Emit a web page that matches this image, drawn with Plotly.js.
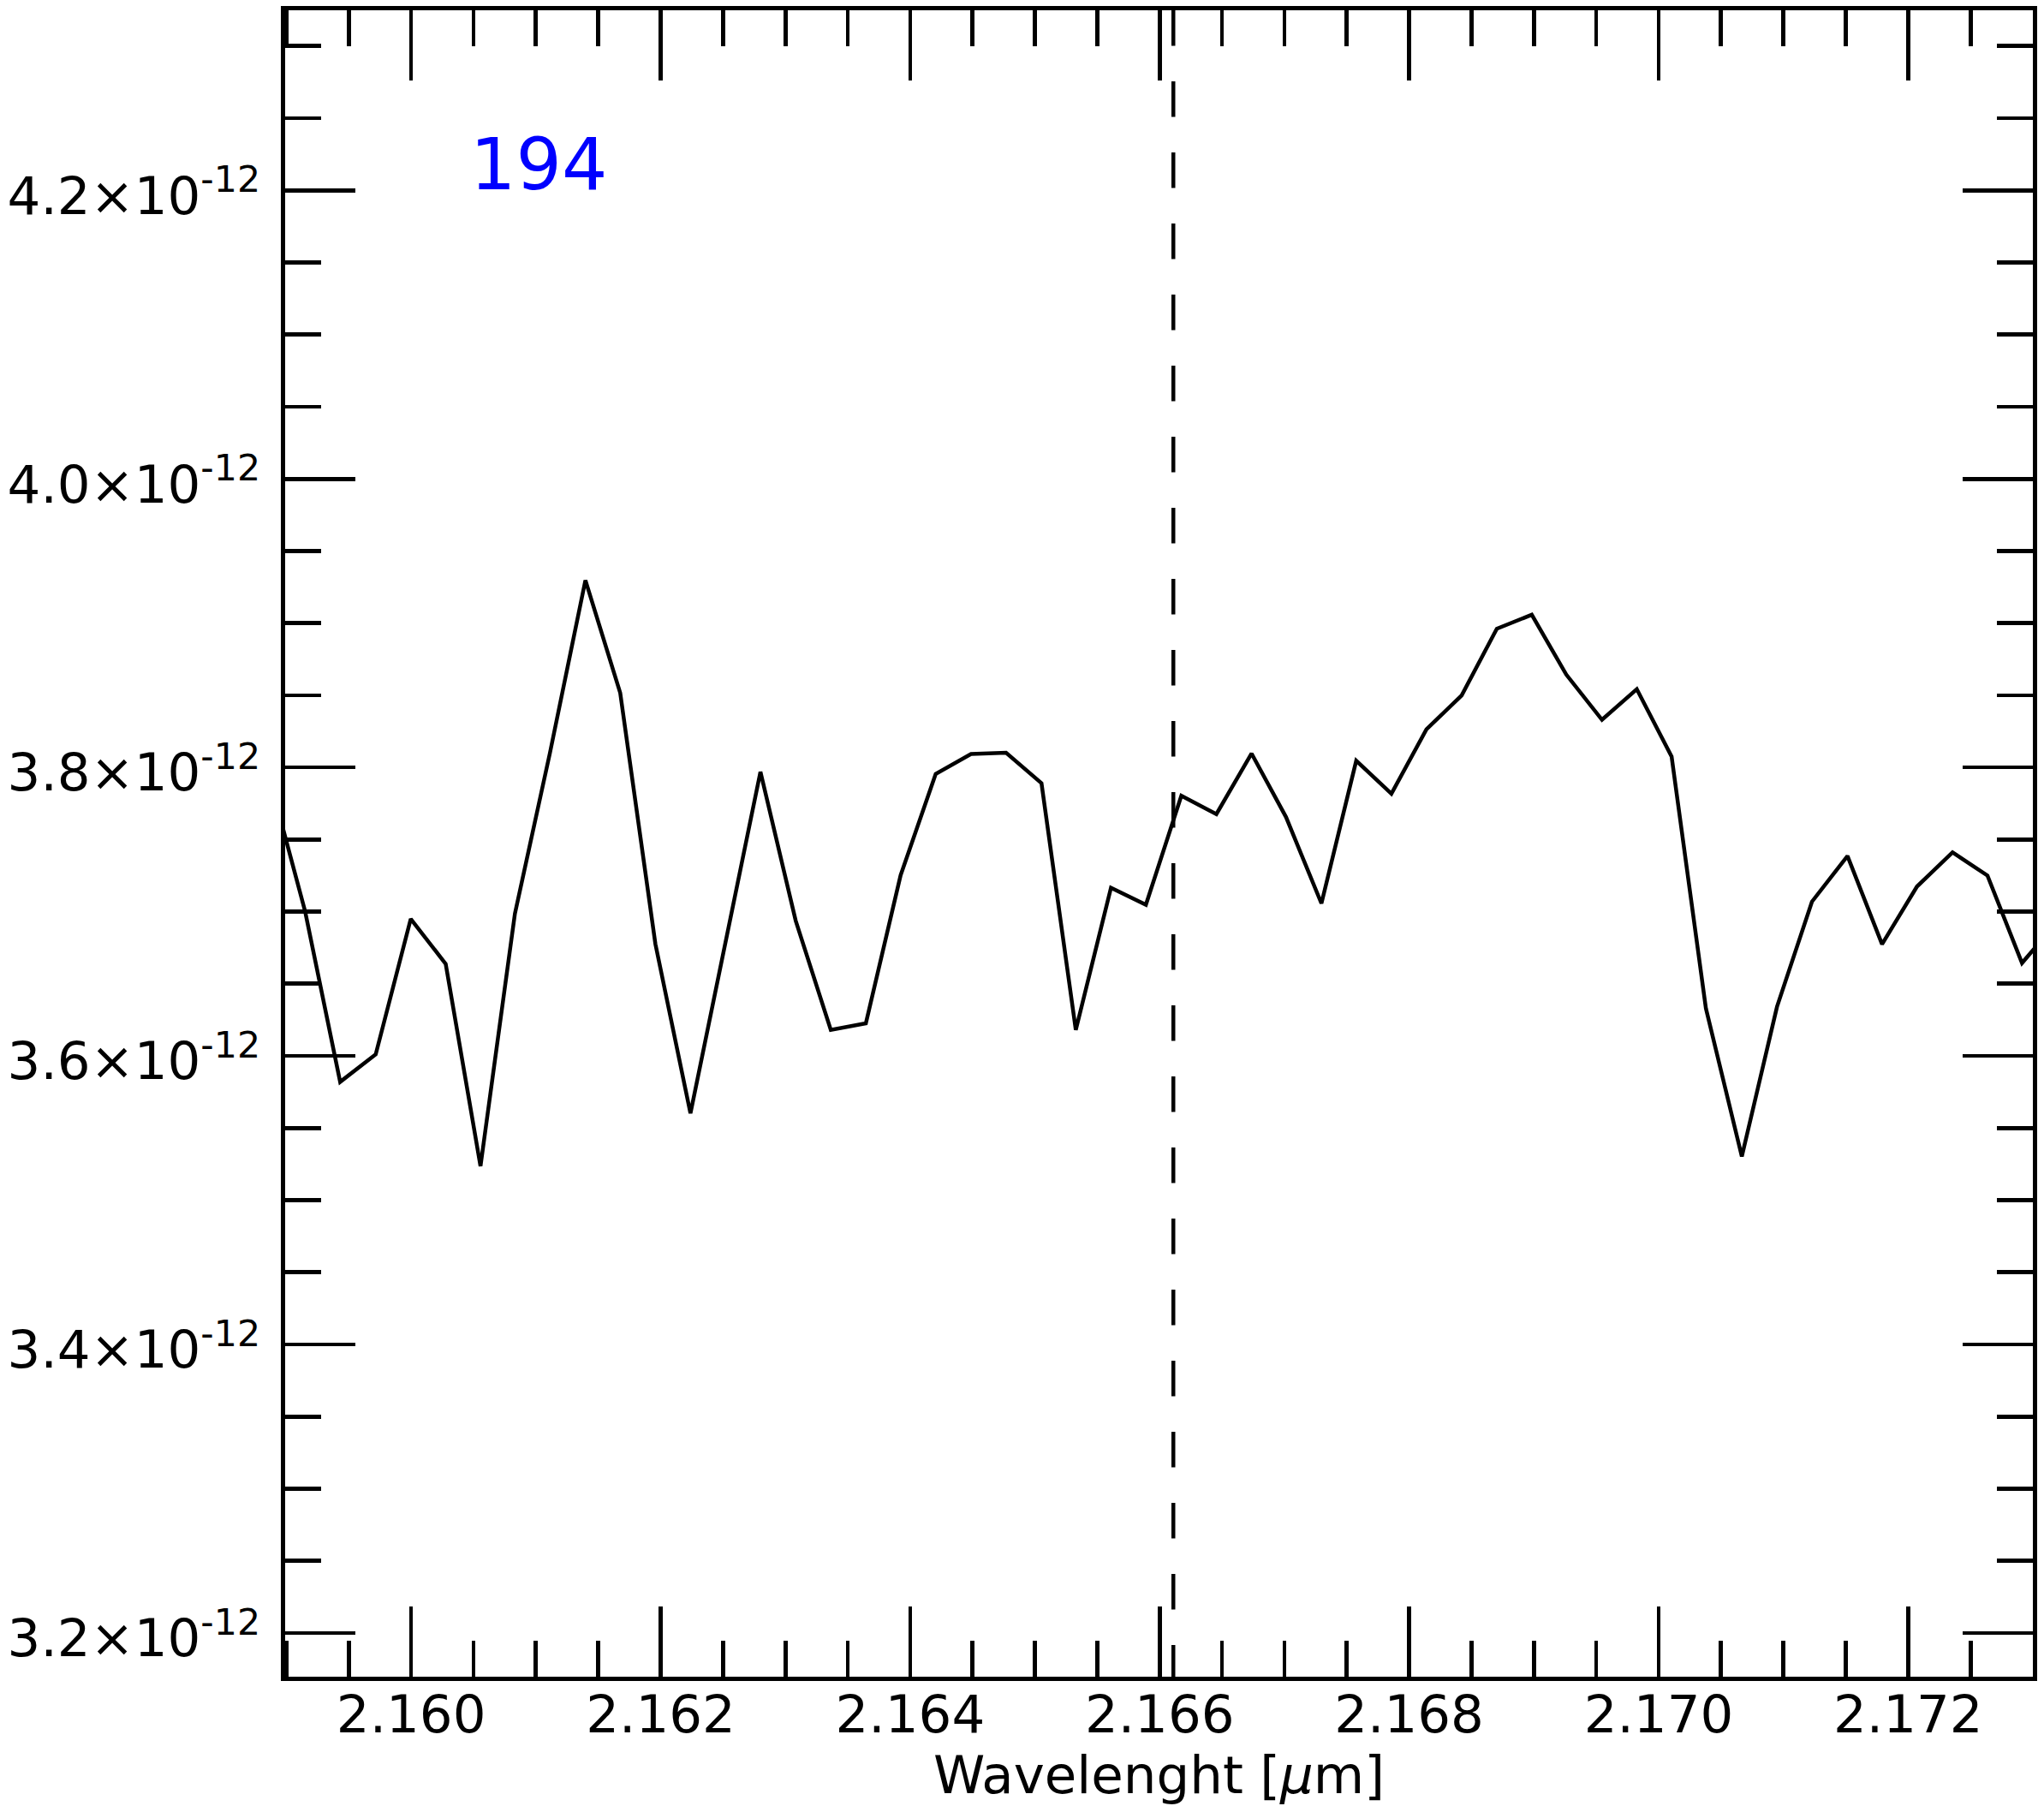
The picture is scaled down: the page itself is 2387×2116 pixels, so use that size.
<!DOCTYPE html>
<html>
<head>
<meta charset="utf-8">
<script src="https://cdn.plot.ly/plotly-3.0.1.min.js"></script>
<style>html,body{margin:0;padding:0;background:#fff;}</style>
</head>
<body>
<div id="chart" style="width:2387px;height:2116px;"></div>
<script>
// Wavelength (micron) and flux of the spectrum
const wavelength = [2.158869, 2.159150, 2.159431, 2.159716, 2.159997, 2.160277, 2.160556, 2.160832,
  2.161112, 2.161397, 2.161676, 2.161958, 2.162239, 2.162520, 2.162800, 2.163083, 2.163364, 2.163645,
  2.163924, 2.164205, 2.164488, 2.164769, 2.165053, 2.165328, 2.165610, 2.165890, 2.166174, 2.166455,
  2.166737, 2.167013, 2.167297, 2.167576, 2.167858, 2.168139, 2.168421, 2.168703, 2.168983, 2.169260,
  2.169546, 2.169825, 2.170104, 2.170379, 2.170667, 2.170949, 2.171229, 2.171514, 2.171791, 2.172071,
  2.172356, 2.172636, 2.172913, 2.173192];
const flux = [3.7912, 3.7002, 3.5820, 3.6011, 3.6950, 3.6638, 3.5236, 3.6987,
  3.8098, 3.9297, 3.8516, 3.6776, 3.5602, 3.6790, 3.7969, 3.6936, 3.6180, 3.6226,
  3.7253, 3.7955, 3.8093, 3.8102, 3.7890, 3.6180, 3.7166, 3.7048, 3.7803, 3.7676,
  3.8096, 3.7656, 3.7057, 3.8046, 3.7818, 3.8264, 3.8499, 3.8961, 3.9058, 3.8643,
  3.8330, 3.8542, 3.8075, 3.6330, 3.5303, 3.6341, 3.7069, 3.7386, 3.6774, 3.7174,
  3.7411, 3.7250, 3.6644, 3.6926].map(v => v * 1e-12);
const lineCenter = 2.16611;           // dashed reference line (Br gamma)
const labelText = "194";
const labelX = 2.160462;
const labelY = 4.2e-12;
const xTickVals = [2.160, 2.162, 2.164, 2.166, 2.168, 2.170, 2.172];
const xTickText = ["2.160", "2.162", "2.164", "2.166", "2.168", "2.170", "2.172"];
const yTickVals = [3.2e-12, 3.4e-12, 3.6e-12, 3.8e-12, 4.0e-12, 4.2e-12];
const yTickText = ["3.2×10<sup>-12</sup>", "3.4×10<sup>-12</sup>", "3.6×10<sup>-12</sup>",
  "3.8×10<sup>-12</sup>", "4.0×10<sup>-12</sup>", "4.2×10<sup>-12</sup>"];
const xRange = [2.15899, 2.173];
const yRange = [3.1697e-12, 4.3248e-12];

const font = {family: "DejaVu Sans", size: 61, color: "#000"};

const trace = {
  x: wavelength, y: flux, type: "scatter", mode: "lines",
  line: {color: "#000", width: 4.5}, hoverinfo: "skip"
};

const axisCommon = {
  showgrid: false, zeroline: false, showline: true, linecolor: "#000", linewidth: 4.7,
  mirror: "allticks", ticks: "inside", ticklen: 82, tickwidth: 4.7, tickcolor: "#000",
  tickfont: font, tickmode: "array"
};

const layout = {
  width: 2387, height: 2116,
  margin: {l: 333, r: 13, t: 12, b: 158, pad: 0},
  paper_bgcolor: "#fff", plot_bgcolor: "#fff",
  showlegend: false,
  font: font,
  xaxis: Object.assign({}, axisCommon, {
    range: xRange, tickvals: xTickVals, ticktext: xTickText,
    minor: {ticks: "inside", ticklen: 42, tickwidth: 4.7, tickcolor: "#000", dtick: 0.0005, tick0: 2.16},
    ticklabelstandoff: -13,
    title: {text: "Wavelenght [<i>μ</i>m]", font: font, standoff: 13},
    automargin: false
  }),
  yaxis: Object.assign({}, axisCommon, {
    range: yRange, tickvals: yTickVals, ticktext: yTickText,
    minor: {ticks: "inside", ticklen: 42, tickwidth: 4.7, tickcolor: "#000", dtick: 0.05e-12, tick0: 3.2e-12},
    ticklabelstandoff: 12, ticklabelshift: 6,
    automargin: false
  }),
  shapes: [{
    type: "line", xref: "x", yref: "paper", x0: lineCenter, x1: lineCenter, y0: 1, y1: 0,
    line: {color: "#000", width: 4.5, dash: "41.5px,41.5px"}
  }],
  annotations: [{
    text: labelText, x: labelX, y: labelY, xref: "x", yref: "y",
    xanchor: "left", yanchor: "bottom", showarrow: false, yshift: -21,
    font: {family: "DejaVu Sans", size: 84, color: "#0000ff"}
  }]
};

Plotly.newPlot("chart", [trace], layout, {staticPlot: true, displayModeBar: false});
</script>
</body>
</html>
